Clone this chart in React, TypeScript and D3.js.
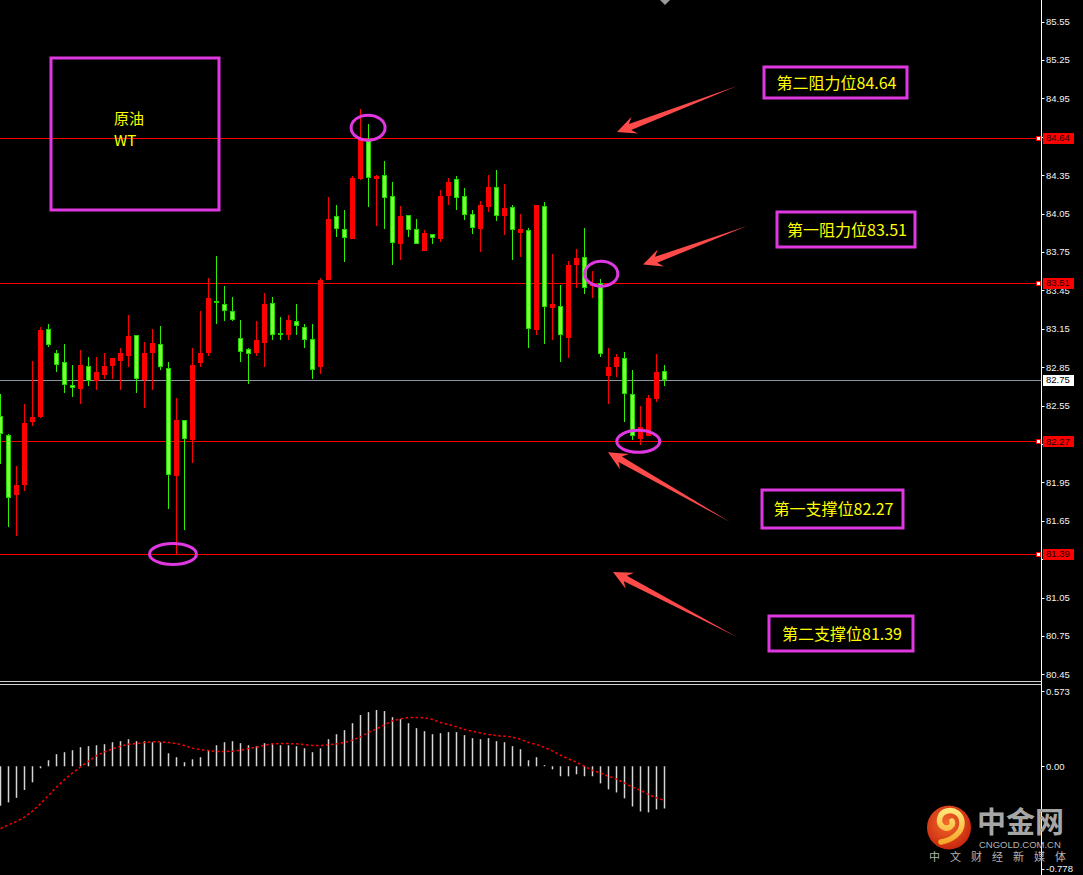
import React from 'react';
import * as d3 from 'd3';

const W = 1083;
const H = 875;

// 原油 WTI candles, oldest first
const candleOpen = [
  82.47, 82.32, 81.85, 81.93, 82.42, 82.46, 83.15, 82.96, 82.89, 82.71,
  82.68, 82.86, 82.74, 82.79, 82.86, 82.90, 82.94, 83.10, 82.75, 82.96,
  83.03, 82.84, 82.00, 82.44, 82.28, 82.88, 82.96, 83.37, 83.34, 83.29,
  83.08, 82.99, 82.96, 83.04, 83.35, 83.12, 83.10, 83.21, 83.16, 83.07,
  82.85, 83.53, 84.03, 83.93, 83.85, 84.32, 84.63, 84.32, 84.35, 84.19,
  83.81, 84.04, 83.93, 83.76, 83.89, 83.85, 84.19, 84.32, 84.19, 84.05,
  83.93, 84.10, 84.26, 84.03, 84.10, 83.90, 83.92, 83.14, 84.11, 83.31,
  83.33, 83.08, 83.65, 83.71, 83.48, 83.51, 82.78, 82.85, 82.92, 82.64,
  82.29, 82.31, 82.60, 82.82,
];
const candleHigh = [
  82.64, 82.33, 82.08, 82.56, 82.90, 83.16, 83.19, 82.98, 83.03, 82.87,
  82.98, 82.93, 82.93, 82.96, 82.92, 83.00, 83.26, 83.10, 83.05, 83.15,
  83.17, 82.89, 82.61, 82.44, 83.00, 83.29, 83.55, 83.72, 83.48, 83.40,
  83.22, 83.00, 83.21, 83.43, 83.40, 83.24, 83.26, 83.34, 83.19, 83.19,
  83.55, 84.18, 84.12, 84.08, 84.34, 84.87, 84.75, 84.35, 84.46, 84.30,
  84.11, 84.04, 84.01, 83.92, 83.89, 84.23, 84.33, 84.34, 84.25, 84.08,
  84.15, 84.35, 84.39, 84.28, 84.12, 84.05, 83.94, 84.12, 84.14, 83.73,
  83.49, 83.68, 83.77, 83.94, 83.60, 83.54, 83.00, 82.95, 82.97, 82.83,
  82.55, 82.63, 82.95, 82.87,
];
const candleLow = [
  82.09, 81.60, 81.53, 81.88, 82.39, 82.45, 83.01, 82.81, 82.65, 82.62,
  82.56, 82.70, 82.67, 82.76, 82.76, 82.67, 82.85, 82.65, 82.53, 82.67,
  82.83, 81.74, 81.39, 81.58, 82.10, 82.85, 82.94, 83.19, 83.21, 83.21,
  82.89, 82.72, 82.94, 82.85, 83.06, 83.06, 83.06, 83.10, 83.00, 82.76,
  82.80, 83.53, 83.87, 83.67, 83.85, 84.31, 84.10, 83.95, 83.93, 83.65,
  83.69, 83.87, 83.81, 83.76, 83.81, 83.83, 84.12, 84.08, 84.00, 83.89,
  83.75, 84.06, 83.99, 83.88, 83.69, 83.71, 83.00, 83.10, 83.03, 83.06,
  82.89, 82.92, 83.47, 83.42, 83.39, 82.93, 82.56, 82.77, 82.42, 82.28,
  82.24, 82.31, 82.58, 82.70,
];
const candleClose = [
  82.33, 81.83, 81.93, 82.41, 82.46, 83.14, 83.02, 82.87, 82.71, 82.69,
  82.87, 82.74, 82.81, 82.86, 82.92, 82.96, 83.09, 82.76, 82.96, 83.04,
  82.85, 82.01, 82.44, 82.29, 82.87, 82.96, 83.39, 83.35, 83.29, 83.22,
  82.97, 82.95, 83.06, 83.34, 83.10, 83.11, 83.22, 83.17, 83.06, 82.83,
  83.53, 84.01, 83.93, 83.86, 84.33, 84.63, 84.33, 84.34, 84.17, 83.82,
  84.03, 83.92, 83.81, 83.90, 83.86, 84.19, 84.30, 84.17, 84.04, 83.94,
  84.12, 84.26, 84.03, 84.09, 83.92, 83.93, 83.15, 84.12, 83.32, 83.34,
  83.10, 83.65, 83.70, 83.47, 83.50, 82.95, 82.85, 82.93, 82.64, 82.31,
  82.38, 82.61, 82.81, 82.75,
];

// MACD histogram and signal line
const macdHist = [
  -0.300, -0.275, -0.240, -0.180, -0.122, -0.015, 0.046, 0.092, 0.107, 0.122,
  0.145, 0.153, 0.160, 0.168, 0.183, 0.191, 0.206, 0.191, 0.191, 0.183,
  0.183, 0.099, 0.069, 0.031, 0.053, 0.069, 0.122, 0.160, 0.183, 0.191,
  0.176, 0.160, 0.153, 0.176, 0.168, 0.160, 0.160, 0.153, 0.137, 0.107,
  0.137, 0.206, 0.244, 0.275, 0.328, 0.390, 0.412, 0.428, 0.420, 0.374,
  0.359, 0.328, 0.290, 0.267, 0.244, 0.252, 0.260, 0.260, 0.237, 0.214,
  0.206, 0.214, 0.191, 0.183, 0.153, 0.130, 0.046, 0.069, 0.008, -0.023,
  -0.076, -0.076, -0.061, -0.076, -0.076, -0.130, -0.176, -0.199, -0.244, -0.306,
  -0.344, -0.351, -0.328, -0.321,
];
const macdSignal = [
  -0.474, -0.446, -0.420, -0.387, -0.341, -0.285, -0.222, -0.158, -0.102, -0.051,
  -0.005, 0.038, 0.081, 0.109, 0.132, 0.153, 0.168, 0.173, 0.181, 0.186,
  0.186, 0.181, 0.173, 0.158, 0.137, 0.127, 0.120, 0.112, 0.112, 0.115,
  0.122, 0.135, 0.145, 0.160, 0.171, 0.173, 0.173, 0.171, 0.166, 0.158,
  0.158, 0.163, 0.171, 0.181, 0.199, 0.224, 0.257, 0.285, 0.316, 0.346,
  0.361, 0.372, 0.372, 0.369, 0.356, 0.333, 0.318, 0.300, 0.280, 0.267,
  0.254, 0.242, 0.234, 0.229, 0.222, 0.206, 0.181, 0.166, 0.143, 0.117,
  0.084, 0.056, 0.031, 0.000, -0.031, -0.051, -0.076, -0.097, -0.128, -0.158,
  -0.183, -0.214, -0.240, -0.260,
];

const priceTicks = [
  85.55, 85.25, 84.95, 84.65, 84.35, 84.05, 83.75, 83.45, 83.15,
  82.85, 82.55, 82.25, 81.95, 81.65, 81.35, 81.05, 80.75, 80.45,
];
const macdTicks = [0.573, 0.0, -0.778];
const macdTickLabels = ['0.573', '0.00', '-0.778'];

// resistance / support levels
const levelValues = [84.64, 83.51, 82.27, 81.39];
const levelNames = ['第二阻力位', '第一阻力位', '第一支撑位', '第二支撑位'];
const lastPrice = 82.75;

const siteName = '中金网';
const siteDomain = 'CNGOLD.COM.CN';
const siteSlogan = ['中', '文', '财', '经', '新', '媒', '体'];

const MAGENTA = '#e038e0';
const ARROW = '#ff4a4a';
const YELLOW = '#ffff00';
const AXIS_X = 1041.5;

const x = d3.scaleLinear().domain([0, 83]).range([0.5, 664.5]);
const y = d3.scaleLinear().domain([80.45, 85.55]).range([674.3, 21.5]);
const ym = d3.scaleLinear().domain([-0.778, 0.573]).range([868.5, 691]);

// label boxes and arrows, one per level
const levelBoxes = [
  { x0: 764, y0: 67, x1: 907, y1: 98, tail: [737, 86], tipDx: 617, tipOff: -6 },
  { x0: 777, y0: 212, x1: 915, y1: 247, tail: [747, 226], tipDx: 643, tipOff: -18 },
  { x0: 762, y0: 490, x1: 903, y1: 528, tail: [730, 522], tipDx: 608, tipOff: 11 },
  { x0: 769, y0: 616, x1: 913, y1: 651, tail: [737, 637], tipDx: 613, tipOff: 18 },
];

// highlight rings: candle index and price at centre
const rings = [
  { i: 45.95, p: 84.72, rx: 17, ry: 12.5 },
  { i: 75.1, p: 83.58, rx: 16.5, ry: 12.5 },
  { i: 79.72, p: 82.27, rx: 21.5, ry: 11 },
  { i: 21.56, p: 81.39, rx: 23.5, ry: 10.5 },
];

function arrowPoints(tail: number[], tip: number[]) {
  const dx = tail[0] - tip[0];
  const dy = tail[1] - tip[1];
  const len = Math.hypot(dx, dy);
  const ux = dx / len, uy = dy / len;
  const nx = -uy, ny = ux;
  const pt = (a: number, b: number) => [tip[0] + ux * a + nx * b, tip[1] + uy * a + ny * b];
  const pts = [tip, pt(19, 9), pt(14, 3.2), tail, pt(14, -3.2), pt(19, -9)];
  return pts.map((p) => p.join(',')).join(' ');
}

export default function App() {
  const n = candleOpen.length;
  const idx = d3.range(n);
  const signalLine = d3
    .line<number>()
    .x((i) => x(i))
    .y((i) => ym(macdSignal[i]));

  const font = '"Liberation Sans", Arial, sans-serif';
  const cjk = '"Noto Sans CJK SC", "Noto Sans", sans-serif';

  // axis ticks hidden behind a level tag are not labelled
  const tagYs = levelValues.map((v) => y(v));
  const visibleTicks = priceTicks.filter((t) => tagYs.every((ty) => Math.abs(y(t) - ty) > 6));

  return (
    <svg
      width={W}
      height={H}
      viewBox={`0 0 ${W} ${H}`}
      style={{ position: 'absolute', left: 0, top: 0, display: 'block', background: '#000' }}
    >
      <defs>
        <radialGradient id="logoDisc" cx="45%" cy="40%" r="60%">
          <stop offset="0%" stopColor="#f26a2a" />
          <stop offset="100%" stopColor="#c8280e" />
        </radialGradient>
        <linearGradient id="logoSwirl" x1="0" y1="0" x2="0" y2="1">
          <stop offset="0%" stopColor="#ffe67a" />
          <stop offset="100%" stopColor="#f6a82a" />
        </linearGradient>
      </defs>
      <rect x={0} y={0} width={W} height={H} fill="#000" />

      {/* panel frame */}
      <line x1={AXIS_X} y1={0} x2={AXIS_X} y2={H} stroke="#ffffff" strokeWidth={1} />
      <line x1={0} y1={681.5} x2={AXIS_X} y2={681.5} stroke="#d0d0d0" strokeWidth={1} />
      <line x1={0} y1={684.5} x2={AXIS_X} y2={684.5} stroke="#d0d0d0" strokeWidth={1} />
      <polygon points="660,0 670,0 665,5" fill="#9a9a9a" />

      {/* price axis */}
      {priceTicks.map((t) => (
        <line key={t} x1={AXIS_X} y1={Math.round(y(t)) + 0.5} x2={AXIS_X + 3} y2={Math.round(y(t)) + 0.5} stroke="#fff" />
      ))}
      {visibleTicks.map((t) => (
        <text key={t} x={1046} y={y(t) + 3.5} fontSize={9.5} fontFamily={font} fill="#f2f2f2">
          {t.toFixed(2)}
        </text>
      ))}

      {/* MACD axis */}
      {macdTicks.map((t, k) => (
        <g key={t}>
          <line x1={AXIS_X} y1={Math.round(ym(t)) + 0.5} x2={AXIS_X + 3} y2={Math.round(ym(t)) + 0.5} stroke="#fff" />
          <text x={1046} y={ym(t) + 3.5} fontSize={9.5} fontFamily={font} fill="#f2f2f2">
            {macdTickLabels[k]}
          </text>
        </g>
      ))}

      {/* last price line */}
      <line x1={0} y1={Math.round(y(lastPrice)) + 0.5} x2={AXIS_X} y2={Math.round(y(lastPrice)) + 0.5} stroke="#8a96a4" strokeWidth={1} />

      {/* level lines */}
      {levelValues.map((v) => {
        const ly = Math.round(y(v)) + 0.5;
        return (
          <g key={v}>
            <line x1={0} y1={ly} x2={1037} y2={ly} stroke="#ff0000" strokeWidth={1} />
            <rect x={1036.5} y={ly - 2} width={4} height={4} fill="#ffffff" stroke="#ff0000" strokeWidth={1} />
          </g>
        );
      })}

      {/* candles */}
      {idx.map((i) => {
        const cx = x(i);
        const o = candleOpen[i];
        const c = candleClose[i];
        const up = c >= o;
        const yTop = Math.round(y(Math.max(o, c)));
        const yBot = Math.round(y(Math.min(o, c)));
        const h = Math.max(1, yBot - yTop);
        const wick = up ? '#ff0000' : '#2ef000';
        return (
          <g key={i}>
            <line x1={cx} y1={Math.round(y(candleHigh[i]))} x2={cx} y2={Math.round(y(candleLow[i]))} stroke={wick} strokeWidth={1} />
            {up ? (
              <rect x={cx - 2.5} y={yTop} width={5} height={h} fill="#ff0000" />
            ) : (
              <g>
                <rect x={cx - 2.5} y={yTop} width={5} height={Math.max(2, h)} fill="#22d400" />
                {h > 2 && <rect x={cx - 1.5} y={yTop + 1} width={3} height={h - 2} fill="#7dff3a" />}
              </g>
            )}
          </g>
        );
      })}

      {/* MACD histogram */}
      {idx.map((i) => {
        const y0 = ym(0);
        const y1 = ym(macdHist[i]);
        return (
          <rect
            key={i}
            x={x(i) - 0.75}
            y={Math.min(y0, y1)}
            width={1.5}
            height={Math.max(1, Math.abs(y1 - y0))}
            fill="#d4d4d4"
          />
        );
      })}
      <path d={signalLine(idx) || ''} fill="none" stroke="#ff0000" strokeWidth={1.5} strokeDasharray="2.5 2.5" />

      {/* level value tags on the axis */}
      <rect x={1043} y={Math.round(y(lastPrice)) - 5} width={31} height={11} fill="#ffffff" />
      <text x={1046} y={y(lastPrice) + 3.5} fontSize={9.5} fontFamily={font} fill="#000">
        {lastPrice.toFixed(2)}
      </text>
      {levelValues.map((v) => (
        <g key={v}>
          <rect x={1043} y={Math.round(y(v)) - 5} width={31} height={11} fill="#ff0000" />
          <text x={1046} y={y(v) + 3.5} fontSize={9.5} fontFamily={font} fill="#1a0000">
            {v.toFixed(2)}
          </text>
        </g>
      ))}

      {/* title box */}
      <rect x={51} y={58} width={168} height={152} fill="none" stroke={MAGENTA} strokeWidth={3} />
      <text x={114} y={124} fontSize={15} fontFamily={cjk} fill={YELLOW}>原油</text>
      <text x={114} y={146} fontSize={15} fontFamily={cjk} fill={YELLOW}>WT</text>

      {/* highlight rings */}
      {rings.map((r, k) => (
        <ellipse key={k} cx={x(r.i)} cy={y(r.p)} rx={r.rx} ry={r.ry} fill="none" stroke={MAGENTA} strokeWidth={3} />
      ))}

      {/* level annotations */}
      {levelValues.map((v, k) => {
        const b = levelBoxes[k];
        const tip = [b.tipDx, y(v) + b.tipOff];
        return (
          <g key={v}>
            <polygon points={arrowPoints(b.tail, tip)} fill={ARROW} />
            <rect x={b.x0} y={b.y0} width={b.x1 - b.x0} height={b.y1 - b.y0} fill="none" stroke={MAGENTA} strokeWidth={3} />
            <text
              x={(b.x0 + b.x1) / 2 + 1}
              y={(b.y0 + b.y1) / 2 + 6}
              fontSize={16}
              fontFamily={cjk}
              fill={YELLOW}
              textAnchor="middle"
            >
              {levelNames[k] + v.toFixed(2)}
            </text>
          </g>
        );
      })}

      {/* site mark */}
      <g>
        <circle cx={949} cy={827.5} r={22} fill="url(#logoDisc)" />
        <path
          d="M 941 842 C 952 840 962 833 962 823 C 962 814 954 809 947 811 C 939 813 937 823 943 827 C 948 830 954 826 952 821"
          fill="none"
          stroke="url(#logoSwirl)"
          strokeWidth={5.5}
          strokeLinecap="round"
        />
        <text x={977} y={833} fontSize={29} fontWeight="bold" fontFamily={cjk} fill="#a6a6a6">
          {siteName}
        </text>
        <text x={979} y={848} fontSize={9.5} fontFamily={font} fill="#b4b4b4">
          {siteDomain}
        </text>
        {siteSlogan.map((ch, k) => (
          <text key={k} x={929 + k * 21} y={861} fontSize={11} fontFamily={cjk} fill="#b4b4b4">
            {ch}
          </text>
        ))}
      </g>
    </svg>
  );
}
